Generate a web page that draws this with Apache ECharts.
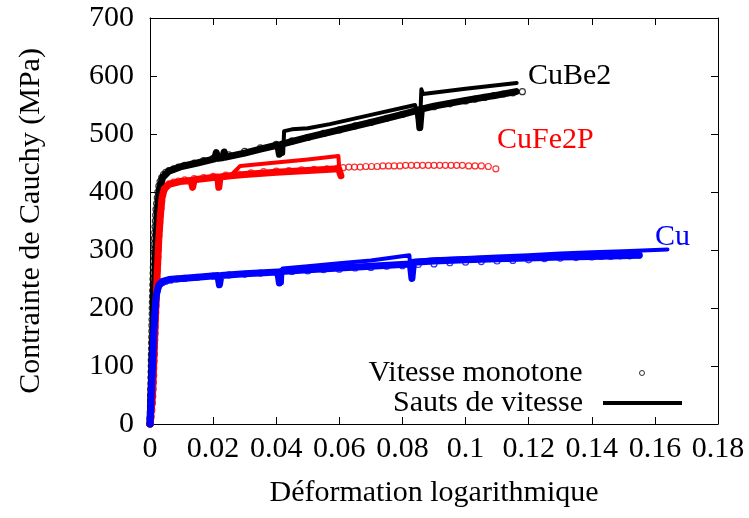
<!DOCTYPE html>
<html><head><meta charset="utf-8">
<script src="https://cdn.jsdelivr.net/npm/echarts@6/dist/echarts.min.js"></script>
<style>html,body{margin:0;padding:0;background:#fff}#c{width:749px;height:518px}</style>
</head><body><div id="c"></div>
<script>
// ---- tick labels ----
const xTickLabels = ['0','0.02','0.04','0.06','0.08','0.1','0.12','0.14','0.16','0.18'];
const yTickLabels = ['0','100','200','300','400','500','600','700'];

// ---- titles / names ----
const xTitle = 'Déformation logarithmique';
const yTitle = 'Contrainte de Cauchy (MPa)';
const legendNames = ['Vitesse monotone', 'Sauts de vitesse'];
const materialNames = ['CuBe2', 'CuFe2P', 'Cu'];

// ---- CuBe2 (black) ----
const cube2Monotone = [[0,0],[0.00005,10],[0.0001,20],[0.00015,30],[0.0002,40],[0.0002,50],[0.00025,60],[0.0003,70],[0.0003,80],[0.00035,90],[0.0004,100],[0.0004,110],[0.00045,120],[0.0005,130],[0.0005,140],[0.00055,150],[0.0006,160],[0.0006,170],[0.00065,180],[0.0007,190],[0.0007,200],[0.00075,210],[0.0008,220],[0.00085,230],[0.0009,240],[0.00095,250],[0.001,260],[0.00105,270],[0.0011,280],[0.0012,290],[0.0012,300],[0.0013,310],[0.0014,320],[0.0015,330],[0.0016,340],[0.0017,350],[0.0018,360],[0.0019,370],[0.0021,380],[0.0023,390],[0.0025,400],[0.0028,410],[0.0032,418],[0.0037,425],[0.0043,430],[0.005,434],[0.006,437],[0.0075,440],[0.009,443],[0.011,446],[0.014,450],[0.017,454],[0.02,458],[0.025,464],[0.03,470],[0.035,476],[0.04,482],[0.045,488],[0.05,494],[0.055,501],[0.06,507],[0.065,514],[0.07,520],[0.075,527],[0.08,534],[0.085,541],[0.09,547],[0.095,552],[0.1,557],[0.103,560],[0.106,563],[0.109,566],[0.112,569],[0.115,571],[0.118,573]];
const cube2JumpA = [[0,0],[0.0006,100],[0.0012,200],[0.0018,300],[0.0024,370],[0.003,405],[0.004,425],[0.006,436],[0.01,444],[0.015,450],[0.0205,457],[0.021,468],[0.0215,458],[0.023,459],[0.0235,469],[0.024,460],[0.03,467],[0.035,474],[0.0405,481],[0.041,465],[0.0415,482],[0.05,494],[0.06,507],[0.07,520],[0.08,534],[0.085,541],[0.0855,511],[0.086,543],[0.09,548],[0.1,558],[0.11,567],[0.116,573]];
const cube2JumpB = [[0.0405,481],[0.041,465],[0.0422,466],[0.0425,505],[0.045,508],[0.05,510],[0.057,517],[0.07,533],[0.084,550],[0.0855,511],[0.086,577],[0.0865,569],[0.1,578],[0.1162,588]];

// ---- CuFe2P (red) ----
const cufe2pMonotone = [[0,0],[0.0004,12],[0.0006,24],[0.0008,36],[0.0009,48],[0.001,60],[0.0011,72],[0.0012,84],[0.0012,96],[0.0013,108],[0.0014,120],[0.0014,132],[0.0015,144],[0.0016,156],[0.0016,168],[0.0017,180],[0.0018,192],[0.0019,204],[0.0019,216],[0.002,228],[0.0021,240],[0.0022,252],[0.0023,264],[0.0024,276],[0.0025,288],[0.0026,300],[0.0027,312],[0.0028,324],[0.003,336],[0.0031,348],[0.0033,360],[0.0035,372],[0.0037,384],[0.004,395],[0.0045,404],[0.0052,410],[0.006,414],[0.0075,417],[0.009,419],[0.011,421],[0.014,423],[0.017,425],[0.02,427],[0.024,429],[0.028,431],[0.032,433],[0.036,435],[0.04,436],[0.044,437],[0.048,438],[0.052,439],[0.056,440],[0.0595,441],[0.0612,442],[0.063,443],[0.0648,443],[0.0666,443],[0.0684,444],[0.0702,444],[0.072,444],[0.0738,445],[0.0756,445],[0.0774,445],[0.0792,445],[0.081,446],[0.0828,446],[0.0846,446],[0.0864,446],[0.0882,446],[0.09,446],[0.0918,446],[0.0936,446],[0.0954,446],[0.0972,446],[0.099,446],[0.101,445],[0.103,445],[0.105,445],[0.1072,444],[0.1096,440]];
const cufe2pJumpA = [[0,0],[0.0008,50],[0.0015,150],[0.0022,250],[0.0028,320],[0.0033,360],[0.0038,390],[0.0045,405],[0.006,413],[0.0095,418],[0.013,420],[0.0135,408],[0.014,421],[0.02,425],[0.0215,426],[0.0218,408],[0.0222,426],[0.0255,428],[0.03,430],[0.04,434],[0.05,437],[0.0598,440],[0.0605,428]];
const cufe2pJumpB = [[0.0255,428],[0.0286,445],[0.04,451],[0.05,456],[0.0597,462],[0.06,438]];

// ---- Cu (blue) ----
const cuMonotone = [[0,0],[0.0001,10],[0.0002,20],[0.0003,30],[0.0003,40],[0.0004,50],[0.0004,60],[0.0005,70],[0.0005,80],[0.0006,90],[0.0007,100],[0.0007,110],[0.0008,120],[0.0009,130],[0.0009,140],[0.001,150],[0.0011,160],[0.0012,170],[0.0013,180],[0.0014,190],[0.0015,200],[0.0017,210],[0.0019,220],[0.0022,229],[0.0026,236],[0.0032,241],[0.004,244],[0.005,246],[0.0065,248],[0.0085,250],[0.011,251],[0.015,253],[0.02,255],[0.025,257],[0.03,258],[0.035,260],[0.04,261],[0.045,263],[0.05,264],[0.055,266],[0.06,267],[0.065,269],[0.07,270],[0.075,272],[0.08,273],[0.085,275],[0.09,276],[0.095,278],[0.1,279],[0.105,280],[0.11,281],[0.115,282],[0.12,283],[0.125,285],[0.13,286],[0.135,287],[0.14,288],[0.143,289],[0.146,289],[0.149,290],[0.152,290],[0.155,291]];
const cuJumpA = [[0,0],[0.0005,60],[0.001,130],[0.0015,190],[0.002,222],[0.0028,240],[0.004,246],[0.006,249],[0.01,251],[0.015,253],[0.0215,256],[0.022,240],[0.0225,256],[0.03,259],[0.0405,262],[0.041,243],[0.0415,263],[0.05,266],[0.06,269],[0.07,272],[0.0825,276],[0.083,251],[0.0835,279],[0.09,281],[0.1,283],[0.11,285],[0.12,286],[0.13,288],[0.14,289],[0.155,291]];
const cuJumpB = [[0.0405,262],[0.041,243],[0.0418,243],[0.042,268],[0.05,272],[0.06,277],[0.07,282],[0.0822,291],[0.0828,251],[0.0835,281],[0.09,284],[0.1,286],[0.11,289],[0.12,291],[0.13,294],[0.14,296],[0.15,298],[0.164,301]];

const FONT = 'Liberation Serif';
const FS = 30;
const chart = echarts.init(document.getElementById('c'), null, {renderer: 'canvas'});

const xMin = +xTickLabels[0], xMax = +xTickLabels[xTickLabels.length - 1];
const xStep = +xTickLabels[1] - +xTickLabels[0];
const yMin = +yTickLabels[0], yMax = +yTickLabels[yTickLabels.length - 1];
const yStep = +yTickLabels[1] - +yTickLabels[0];

function fmtX(v) { const i = Math.round((v - xMin) / xStep); return xTickLabels[i] ?? ''; }
function fmtY(v) { const i = Math.round((v - yMin) / yStep); return yTickLabels[i] ?? ''; }

function scatter(name, data, color) {
  return { type: 'scatter', name, data, symbol: 'circle', symbolSize: 6,
    itemStyle: { color: 'none', borderColor: color, borderWidth: 1.2 }, silent: true, z: 2 };
}
function line(name, data, color, width) {
  return { type: 'line', name, data, showSymbol: false, symbol: 'none', color,
    lineStyle: { color, width, join: 'round', cap: 'round' }, silent: true, z: 3 };
}

const axisCommonX = { type: 'value', min: xMin, max: xMax, interval: xStep,
  axisLine: { show: true, onZero: false, lineStyle: { color: '#000', width: 1 } },
  axisTick: { show: true, inside: true, length: 7, lineStyle: { color: '#000' } },
  splitLine: { show: false } };
const axisCommonY = { type: 'value', min: yMin, max: yMax, interval: yStep,
  axisLine: { show: true, onZero: false, lineStyle: { color: '#000', width: 1 } },
  axisTick: { show: true, inside: true, length: 7, lineStyle: { color: '#000' } },
  splitLine: { show: false } };

chart.setOption({
  animation: false,
  backgroundColor: '#fff',
  grid: { left: 150, right: 31, top: 18, bottom: 94, containLabel: false },
  xAxis: [
    Object.assign({}, axisCommonX, { position: 'bottom',
      name: xTitle, nameLocation: 'middle', nameGap: 54,
      nameTextStyle: { fontFamily: FONT, fontSize: FS, color: '#000' },
      axisLabel: { formatter: fmtX, fontFamily: FONT, fontSize: FS, color: '#000', margin: 10 } }),
    Object.assign({}, axisCommonX, { position: 'top', axisLabel: { show: false } })
  ],
  yAxis: [
    Object.assign({}, axisCommonY, { position: 'left',
      name: yTitle, nameLocation: 'middle', nameGap: 104, nameRotate: 90,
      nameTextStyle: { fontFamily: FONT, fontSize: FS, color: '#000' },
      axisLabel: { formatter: fmtY, fontFamily: FONT, fontSize: FS, color: '#000', margin: 16 } }),
    Object.assign({}, axisCommonY, { position: 'right', axisLabel: { show: false } })
  ],
  legend: [
    { data: [{ name: legendNames[0], icon: 'circle',
        itemStyle: { color: 'none', borderColor: '#000', borderWidth: 1 } }],
      right: 102, top: 358, padding: 0, align: 'right', itemWidth: 79, itemHeight: 5,
      symbolKeepAspect: true, selectedMode: false,
      textStyle: { fontFamily: FONT, fontSize: FS, color: '#000', lineHeight: 30, padding: [0, 15, 0, 0] } },
    { data: [{ name: legendNames[1], icon: 'rect', itemStyle: { color: '#000' } }],
      right: 67, top: 388, padding: 0, align: 'right', itemWidth: 79, itemHeight: 4,
      selectedMode: false,
      textStyle: { fontFamily: FONT, fontSize: FS, color: '#000', lineHeight: 30, padding: [0, 15, 0, 0] } }
  ],
  graphic: [
    { type: 'text', left: 528, top: 61, style: { text: materialNames[0], fontFamily: FONT, fontSize: FS, fill: '#000' } },
    { type: 'text', left: 497, top: 125, style: { text: materialNames[1], fontFamily: FONT, fontSize: FS, fill: '#ff0000' } },
    { type: 'text', left: 655, top: 222, style: { text: materialNames[2], fontFamily: FONT, fontSize: FS, fill: '#0000ff' } }
  ],
  series: [
    scatter(legendNames[0], cube2Monotone, '#000000'),
    line(legendNames[1], cube2JumpA, '#000000', 7),
    line(legendNames[1], cube2JumpB, '#000000', 4),
    scatter('CuFe2P monotone', cufe2pMonotone, '#ff0000'),
    line('CuFe2P sauts', cufe2pJumpA, '#ff0000', 7),
    line('CuFe2P sauts B', cufe2pJumpB, '#ff0000', 4),
    scatter('Cu monotone', cuMonotone, '#0000ff'),
    line('Cu sauts', cuJumpA, '#0000ff', 7),
    line('Cu sauts B', cuJumpB, '#0000ff', 4)
  ]
});
</script></body></html>
